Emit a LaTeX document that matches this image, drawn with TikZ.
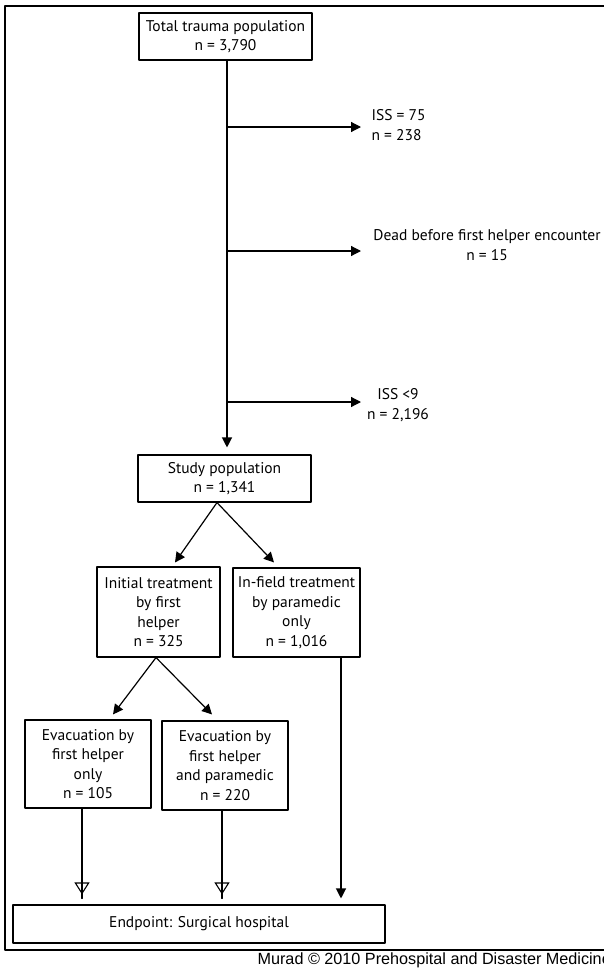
\documentclass[tikz,border=0pt]{standalone}
\usepackage{fontspec}
\setmainfont{PT Sans}
\newfontfamily\creditfont{Liberation Sans}
\usetikzlibrary{arrows.meta}
\tikzset{
  flowbox/.style={draw,line width=1.1pt,align=center,inner sep=2pt,font=\fontsize{15.5}{19.5}\selectfont},
  sidetext/.style={align=center,inner sep=0pt,font=\fontsize{15.5}{19.5}\selectfont},
  hollowtip/.style={-{Triangle[open,length=12pt,width=15pt,line width=1.1pt]},postaction={draw,-,shorten >=6pt}}
}
\begin{document}
\begin{tikzpicture}[line cap=round,line join=round,>={Triangle[length=10pt,width=10pt]},x=1pt,y=-1pt,line width=1.2pt]
\useasboundingbox (0,0) rectangle (604,969);
\draw [line width=1.3pt] (5,6) rectangle (640,950);
\node[flowbox,minimum width=173pt,minimum height=47pt] (total) at (225.5,36.5) {Total trauma population\\n = 3,790};
\node[flowbox,minimum width=173pt,minimum height=47pt] (study) at (224.5,478.5) {Study population\\n = 1,341};
\node[flowbox,minimum width=123pt,minimum height=90pt] (initial) at (158.5,612) {Initial treatment\\by first\\helper\\n = 325};
\node[flowbox,minimum width=127pt,minimum height=89pt] (infield) at (296.5,612.5) {In-field treatment\\by paramedic\\only\\n = 1,016};
\node[flowbox,minimum width=126pt,minimum height=88pt] (evaca) at (88,764) {Evacuation by\\first helper\\only\\n = 105};
\node[flowbox,minimum width=126pt,minimum height=89pt] (evacb) at (225,765.5) {Evacuation by\\first helper\\and paramedic\\n = 220};
\node[flowbox,minimum width=372pt,minimum height=38pt] (endpoint) at (199,924) {Endpoint: Surgical hospital};
\node[sidetext,anchor=west,align=left] (issa) at (371,125) {ISS = 75\\n = 238};
\node[sidetext] (dead) at (487,245) {Dead before first helper encounter\\n = 15};
\node[sidetext] (issb) at (398,405) {ISS <9\\n = 2,196};
\node[anchor=base west,inner sep=0pt,font=\creditfont\fontsize{16.2}{19}\selectfont] (credit) at (257,964) {Murad © 2010 Prehospital and Disaster Medicine};
% exclusions
\coordinate (ba) at (227,127);
\coordinate (bb) at (227,251);
\coordinate (bc) at (227,402);
\coordinate (ea) at (361,127);
\coordinate (eb) at (361,251);
\coordinate (ec) at (361,402);
\draw [->,shorten >=7pt] (total.south -| ba) -- (study.north -| ba);
\draw [->] (ba) -- (ea);
\draw [->] (bb) -- (eb);
\draw [->] (bc) -- (ec);
% branches
\draw [->] ([xshift=-7.5pt]study.south) -- ([xshift=16.5pt,yshift=4pt]initial.north);
\draw [->] ([xshift=-7.5pt]study.south) -- ([xshift=-22.5pt,yshift=5pt]infield.north);
\draw [->] ([xshift=-2.5pt]initial.south) -- ([xshift=25pt,yshift=5pt]evaca.north);
\draw [->] ([xshift=-2.5pt]initial.south) -- ([xshift=-13pt,yshift=6pt]evacb.north);
% to hospital
\draw [hollowtip,shorten >=10pt] ([xshift=-6pt]evaca.south) -- ([xshift=-6pt]evaca.south |- endpoint.north);
\draw [hollowtip,shorten >=10pt] ([xshift=-3pt]evacb.south) -- ([xshift=-3pt]evacb.south |- endpoint.north);
\draw [->,shorten >=6pt] ([xshift=44.5pt]infield.south) -- ([xshift=44.5pt]infield.south |- endpoint.north);
\end{tikzpicture}
\end{document}
